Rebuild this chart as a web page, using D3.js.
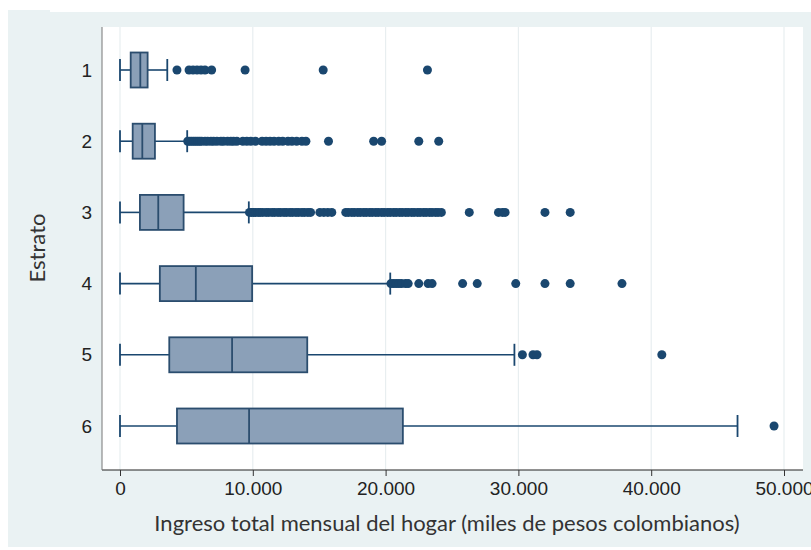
<!DOCTYPE html>
<html>
<head>
<meta charset="utf-8">
<script src="https://cdn.jsdelivr.net/npm/d3@7"></script>
<style>
  body { margin: 0; background: #fff; }
  svg { display: block; }
</style>
</head>
<body>
<div id="chart"></div>
<script>
// categories (estrato)
var strata = ["1", "2", "3", "4", "5", "6"];

// box stats: [lower whisker, q1, median, q3, upper whisker]
var boxStats = [
  [0, 805, 1530, 2080, 3560],
  [0, 955, 1680, 2630, 5060],
  [0, 1500, 2880, 4790, 9700],
  [0, 3000, 5710, 9950, 20350],
  [0, 3710, 8440, 14100, 29700],
  [0, 4290, 9720, 21300, 46500]
];

// outside values per stratum
var outliers1 = [4290, 5200, 5500, 5800, 6100, 6400, 6900, 9420, 15300, 23150];
var outliers2 = [5100, 5250, 5400, 5550, 5700, 5850, 6000, 6150, 6400, 6600, 6850, 7050, 7300,
  7600, 7800, 8100, 8350, 8550, 8800, 9250, 9550, 9850, 10200, 10700, 11000, 11300, 11600,
  11950, 12250, 12650, 12950, 13300, 13700, 14000, 15700, 19100, 19700, 22500, 24000];
var outliers3 = [9750, 9900, 10050, 10200, 10400, 10550, 10750, 11000, 11200, 11450, 11650,
  11900, 12100, 12350, 12550, 12800, 13000, 13250, 13450, 13700, 13900, 14150, 14350, 15050,
  15350, 15650, 15950, 17000, 17200, 17450, 17650, 17900, 18100, 18350, 18550, 18800, 19000,
  19250, 19450, 19700, 19900, 20150, 20350, 20600, 20800, 21050, 21250, 21500, 21700, 21950,
  22150, 22400, 22600, 22850, 23050, 23300, 23500, 23750, 23950, 24200, 26300, 28500, 28800,
  29000, 32000, 33900];
var outliers4 = [20400, 20600, 20800, 21000, 21200, 21500, 21700, 22500, 23200, 23500, 25800,
  26900, 29800, 32000, 33900, 37800];
var outliers5 = [30300, 31100, 31400, 40800];
var outliers6 = [49250];

var xTicks = [0, 10000, 20000, 30000, 40000, 50000];

var allOutliers = [outliers1, outliers2, outliers3, outliers4, outliers5, outliers6];

var width = 811, height = 550;
var plot = {left: 102, right: 803, top: 27, bottom: 470};

var navy = "#1a476f",
  boxFill = "#8ba0b8",
  bg = "#eaf2f3";

var svg = d3.select("#chart").append("svg")
  .attr("width", width)
  .attr("height", height);

// outer background
svg.append("rect")
  .attr("x", 8).attr("y", 12)
  .attr("width", width - 8).attr("height", 535)
  .attr("fill", bg);
svg.append("rect")
  .attr("x", 8).attr("y", 10)
  .attr("width", 42).attr("height", 4)
  .attr("fill", bg);

// plot region
svg.append("rect")
  .attr("x", plot.left).attr("y", plot.top)
  .attr("width", plot.right - plot.left).attr("height", plot.bottom - plot.top)
  .attr("fill", "#fff");

var x = d3.scaleLinear().domain([0, 50000]).range([120, 784]);
var y = d3.scalePoint().domain(strata).range([70, 426]);

var fmt = function(d) {
  return d3.format(",")(d).replace(/,/g, ".");
};

// grid lines
svg.append("g").selectAll("line")
  .data(xTicks)
  .join("line")
  .attr("x1", d => x(d)).attr("x2", d => x(d))
  .attr("y1", plot.top).attr("y2", plot.bottom)
  .attr("stroke", "#e8eef0")
  .attr("stroke-width", 1.2);

// x axis
var xAxis = svg.append("g")
  .attr("transform", "translate(0," + plot.bottom + ")")
  .call(d3.axisBottom(x).tickValues(xTicks).tickFormat(fmt).tickSize(6).tickPadding(6));
xAxis.select(".domain")
  .attr("d", "M" + plot.left + ",0H" + plot.right)
  .attr("stroke", "#222");
xAxis.selectAll(".tick line").attr("stroke", "#333");
xAxis.selectAll(".tick text")
  .attr("font-family", "Liberation Sans, Arial, sans-serif")
  .attr("font-size", 19)
  .attr("fill", "#222");

// y axis
var yAxis = svg.append("g")
  .attr("transform", "translate(" + plot.left + ",0)")
  .call(d3.axisLeft(y).tickSize(0).tickPadding(10));
yAxis.select(".domain")
  .attr("d", "M0," + plot.top + "V" + plot.bottom)
  .attr("stroke", "#777");
yAxis.selectAll(".tick text")
  .attr("font-family", "Liberation Sans, Arial, sans-serif")
  .attr("font-size", 19)
  .attr("fill", "#222");

// axis titles
svg.append("text")
  .attr("x", 447).attr("y", 531)
  .attr("text-anchor", "middle")
  .attr("font-family", "Lato, sans-serif")
  .attr("font-size", 22)
  .attr("fill", "#333")
  .text("Ingreso total mensual del hogar (miles de pesos colombianos)");

svg.append("text")
  .attr("transform", "translate(45,248) rotate(-90)")
  .attr("text-anchor", "middle")
  .attr("font-family", "Lato, sans-serif")
  .attr("font-size", 22)
  .attr("fill", "#333")
  .text("Estrato");

var boxH = 35, capH = 22;

var boxes = svg.append("g").selectAll("g")
  .data(boxStats)
  .join("g")
  .attr("transform", (d, i) => "translate(0," + y(strata[i]) + ")");

// whiskers
boxes.append("line")
  .attr("x1", d => x(d[0])).attr("x2", d => x(d[1]))
  .attr("stroke", navy).attr("stroke-width", 1.6);
boxes.append("line")
  .attr("x1", d => x(d[3])).attr("x2", d => x(d[4]))
  .attr("stroke", navy).attr("stroke-width", 1.6);
boxes.append("line")
  .attr("x1", d => x(d[0])).attr("x2", d => x(d[0]))
  .attr("y1", -capH / 2).attr("y2", capH / 2)
  .attr("stroke", navy).attr("stroke-width", 1.8);
boxes.append("line")
  .attr("x1", d => x(d[4])).attr("x2", d => x(d[4]))
  .attr("y1", -capH / 2).attr("y2", capH / 2)
  .attr("stroke", navy).attr("stroke-width", 1.8);

// box
boxes.append("rect")
  .attr("x", d => x(d[1]))
  .attr("y", -boxH / 2)
  .attr("width", d => x(d[3]) - x(d[1]))
  .attr("height", boxH)
  .attr("fill", boxFill)
  .attr("stroke", "#2b4d6e")
  .attr("stroke-width", 1.8);
boxes.append("line")
  .attr("x1", d => x(d[2])).attr("x2", d => x(d[2]))
  .attr("y1", -boxH / 2).attr("y2", boxH / 2)
  .attr("stroke", "#2b4d6e").attr("stroke-width", 1.8);

// outside values
boxes.each(function(d, i) {
  d3.select(this).selectAll("circle")
    .data(allOutliers[i])
    .join("circle")
    .attr("cx", v => x(v))
    .attr("cy", 0)
    .attr("r", 4.5)
    .attr("fill", navy);
});
</script>
</body>
</html>
